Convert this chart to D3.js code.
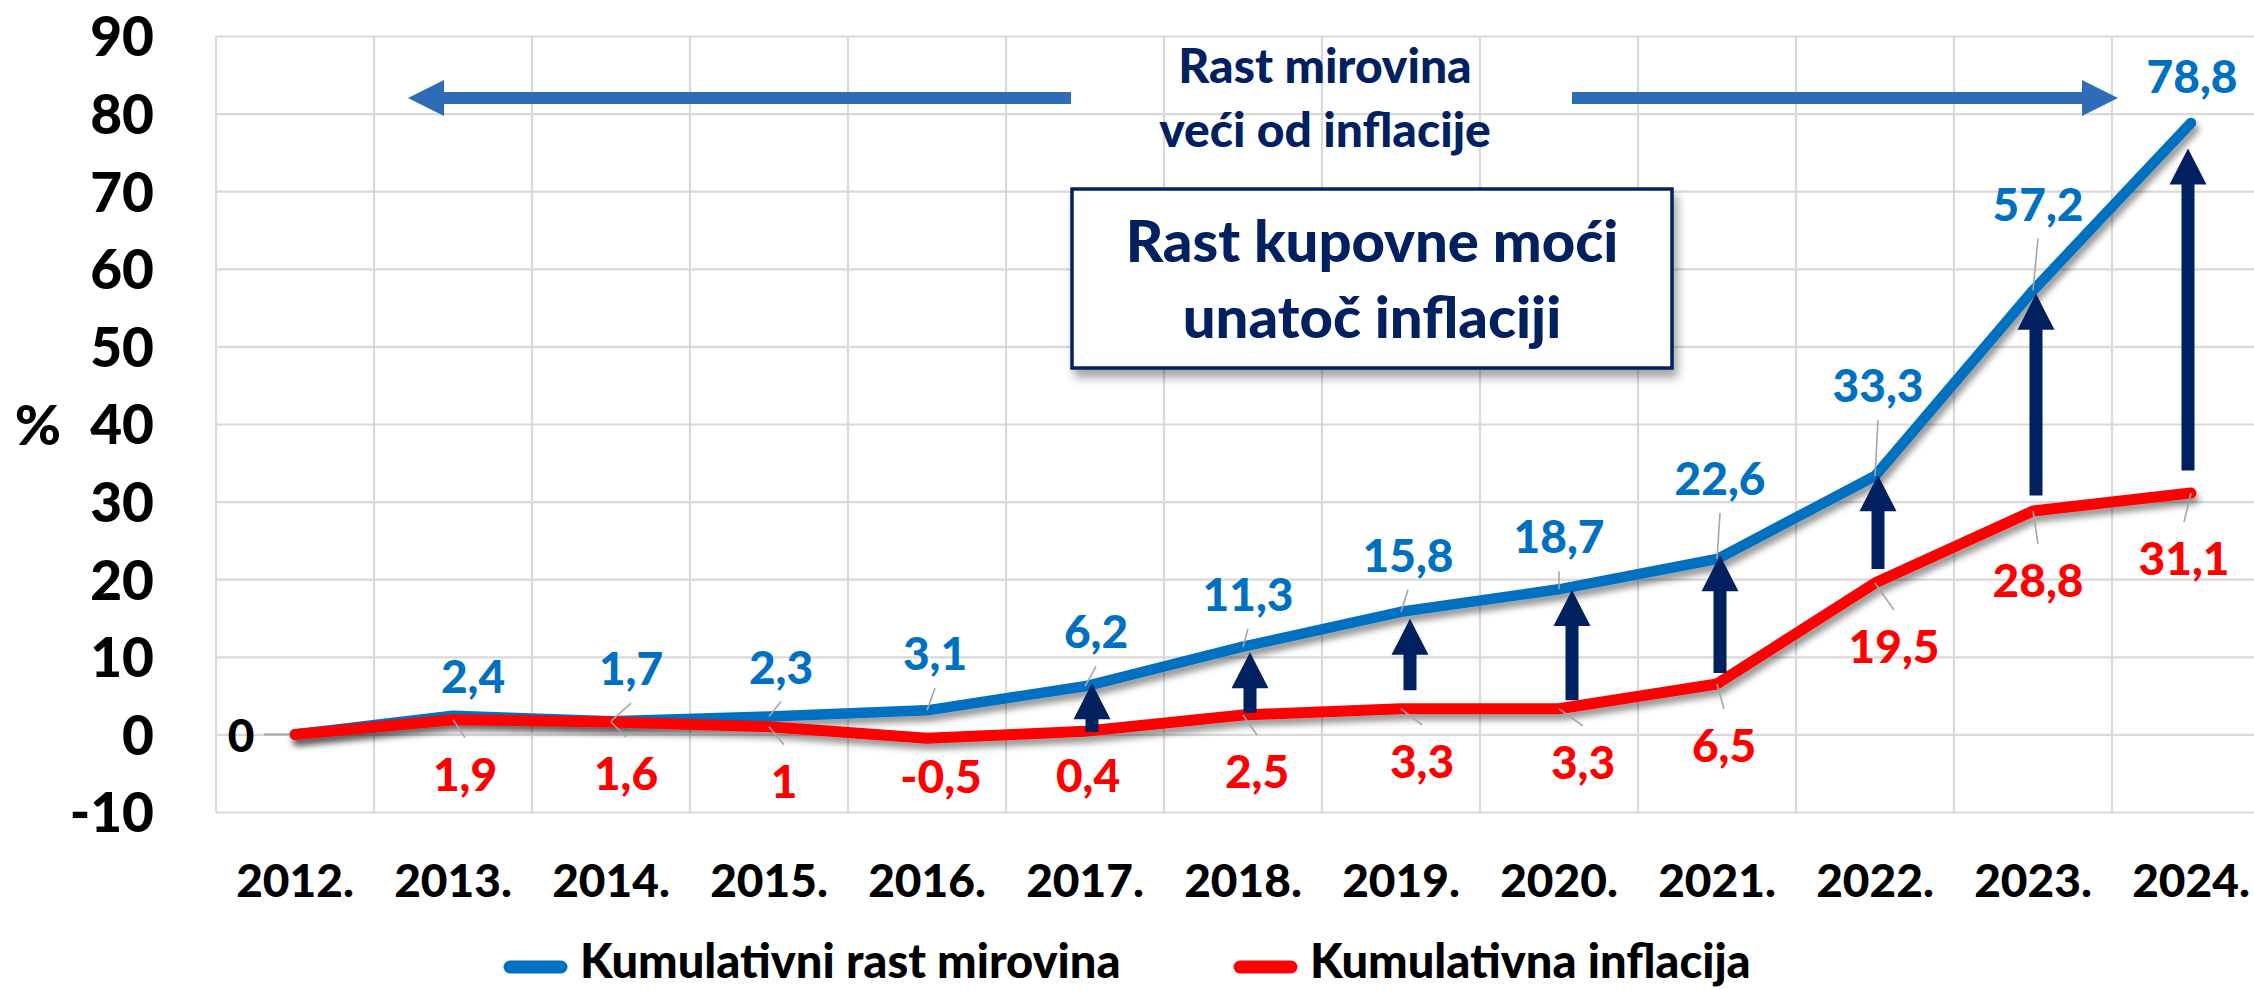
<!DOCTYPE html>
<html>
<head>
<meta charset="utf-8">
<script src="https://cdn.jsdelivr.net/npm/d3@7"></script>
<style>
  html, body { margin: 0; padding: 0; background: #ffffff; }
  svg { display: block; }
  text { font-family: Lato, "Open Sans", "DejaVu Sans", sans-serif; font-weight: 900; }
</style>
</head>
<body>
<svg id="chart" width="2254" height="990"></svg>
<script>
// ---------------- DATA ----------------
const years = ["2012.", "2013.", "2014.", "2015.", "2016.", "2017.", "2018.", "2019.", "2020.", "2021.", "2022.", "2023.", "2024."];
const pensionGrowth = [0, 2.4, 1.7, 2.3, 3.1, 6.2, 11.3, 15.8, 18.7, 22.6, 33.3, 57.2, 78.8];
const inflation = [0, 1.9, 1.6, 1, -0.5, 0.4, 2.5, 3.3, 3.3, 6.5, 19.5, 28.8, 31.1];
const yTicks = [-10, 0, 10, 20, 30, 40, 50, 60, 70, 80, 90];
const seriesNames = ["Kumulativni rast mirovina", "Kumulativna inflacija"];
// purchasing-power arrows (value range drawn between the two lines)
const gapYears = ["2017.", "2018.", "2019.", "2020.", "2021.", "2022.", "2023.", "2024."];
const gapFrom = [0.3, 2.8, 5.7, 4.4, 7.9, 21.3, 30.8, 34.0];
const gapTo = [6.6, 10.6, 14.9, 18.6, 23.1, 33.4, 56.8, 75.5];
const yAxisTitle = "%";
const noteTop = ["Rast mirovina", "veći od inflacije"];
const noteBox = ["Rast kupovne moći", "unatoč inflaciji"];

// ---------------- LAYOUT (label offsets in px relative to points) ----------------
const bluePos = [null, [20,-23,0],[20,-36,1],[12,-33,1],[8,-40,1],[11,-38,1],[5,-36,1],[7,-40,1],[0,-36,1],[3,-64,1],[3,-74,1],[5,-70,1],[1,-30,0]];
const redPos  = [[-54,18,2],[12,71,1],[15,68,1],[15,71,1],[14,55,0],[3,61,0],[14,73,1],[21,69,1],[24,70,1],[7,78,1],[19,80,1],[5,86,1],[-7,82,1]];
const gapDx = [7, 7, 9, 13, 3, 3, 3, -3];

const W = 2254, H = 990;
const plotLeft = 216, band = 158, plotTop = 36, plotBottom = 812;
const BLUE = "#0070C0", RED = "#FF0000", NAVY = "#002060", ARROW = "#2E6DB5", GRID = "#D9D9D9";

const svg = d3.select("#chart");
svg.append("rect").attr("width", W).attr("height", H).attr("fill", "#fff");

const defs = svg.append("defs");
const f1 = defs.append("filter").attr("id", "lineShadow").attr("filterUnits", "userSpaceOnUse")
  .attr("x", 0).attr("y", 0).attr("width", W).attr("height", H);
f1.append("feDropShadow").attr("dx", 3).attr("dy", 6).attr("stdDeviation", 3)
  .attr("flood-color", "#000").attr("flood-opacity", 0.4);
const f2 = defs.append("filter").attr("id", "boxShadow").attr("filterUnits", "userSpaceOnUse")
  .attr("x", 0).attr("y", 0).attr("width", W).attr("height", H);
f2.append("feDropShadow").attr("dx", 4).attr("dy", 8).attr("stdDeviation", 5)
  .attr("flood-color", "#000").attr("flood-opacity", 0.35);

const x = d3.scaleBand().domain(years).range([plotLeft, plotLeft + band * years.length]).padding(0);
const y = d3.scaleLinear().domain([-10, 90]).range([plotBottom, plotTop]);
const cx = d => x(d) + x.bandwidth() / 2;

// ---------------- GRID ----------------
const yAxis = d3.axisLeft(y).tickValues(yTicks).tickSize(-(x.range()[1] - plotLeft)).tickPadding(62).tickFormat(d => String(d));
const gy = svg.append("g").attr("transform", `translate(${plotLeft},0)`).call(yAxis);
gy.select(".domain").remove();
gy.selectAll(".tick line").attr("stroke", GRID).attr("stroke-width", 2.2);
gy.selectAll(".tick text").attr("fill", "#000").style("font-size", "55px").attr("dy", "0.36em");

const vLines = years.map(d => x(d)).concat([x.range()[1]]);
svg.append("g").selectAll("line").data(vLines).join("line")
  .attr("x1", d => d).attr("x2", d => d).attr("y1", y(90)).attr("y2", y(-10))
  .attr("stroke", GRID).attr("stroke-width", 2.2);

// y title
svg.append("text").attr("x", 38).attr("y", 445).attr("text-anchor", "middle")
  .style("font-size", "56px").attr("fill", "#000").text(yAxisTitle);

// x labels
svg.append("g").selectAll("text").data(years).join("text")
  .attr("x", d => cx(d)).attr("y", 897).attr("text-anchor", "middle")
  .style("font-size", "46px").attr("fill", "#000").text(d => d);

// ---------------- TOP NOTE + ARROWS ----------------
const arrowY = y(82);
function hArrow(tipX, tailX) {
  const dir = Math.sign(tipX - tailX);
  const headLen = 36, headHalf = 18, shaftHalf = 6;
  const baseX = tipX - dir * headLen;
  return `M${tailX},${arrowY - shaftHalf} L${baseX},${arrowY - shaftHalf} L${baseX},${arrowY - headHalf} L${tipX},${arrowY} L${baseX},${arrowY + headHalf} L${baseX},${arrowY + shaftHalf} L${tailX},${arrowY + shaftHalf} Z`;
}
svg.append("path").attr("d", hArrow(408, 1071)).attr("fill", ARROW);
svg.append("path").attr("d", hArrow(2118, 1572)).attr("fill", ARROW);
svg.append("g").selectAll("text").data(noteTop).join("text")
  .attr("x", 1325).attr("y", (d, i) => 83 + i * 64).attr("text-anchor", "middle")
  .style("font-size", "48px").attr("fill", NAVY).text(d => d);

// box
svg.append("rect").attr("x", 1072).attr("y", 189).attr("width", 600).attr("height", 179)
  .attr("fill", "#fff").attr("stroke", NAVY).attr("stroke-width", 3.5).attr("filter", "url(#boxShadow)");
svg.append("g").selectAll("text").data(noteBox).join("text")
  .attr("x", 1372).attr("y", (d, i) => 262 + i * 76).attr("text-anchor", "middle")
  .style("font-size", "58px").attr("fill", NAVY).text(d => d);

// ---------------- LINES ----------------
const line = d3.line().x((d, i) => cx(years[i])).y(d => y(d));
svg.append("path").datum(pensionGrowth).attr("d", line).attr("fill", "none")
  .attr("stroke", BLUE).attr("stroke-width", 10.5).attr("stroke-linejoin", "round").attr("stroke-linecap", "round")
  .attr("filter", "url(#lineShadow)");
svg.append("path").datum(inflation).attr("d", line).attr("fill", "none")
  .attr("stroke", RED).attr("stroke-width", 11).attr("stroke-linejoin", "round").attr("stroke-linecap", "round")
  .attr("filter", "url(#lineShadow)");

// ---------------- GAP ARROWS ----------------
function vArrow(xc, y0, y1) {
  const headLen = 36, headHalf = 18.5, shaftHalf = 6.5;
  const baseY = y1 + headLen;
  return `M${xc - shaftHalf},${y0} L${xc - shaftHalf},${baseY} L${xc - headHalf},${baseY} L${xc},${y1} L${xc + headHalf},${baseY} L${xc + shaftHalf},${baseY} L${xc + shaftHalf},${y0} Z`;
}
svg.append("g").selectAll("path").data(gapYears).join("path")
  .attr("d", (d, i) => vArrow(cx(d) + gapDx[i], y(gapFrom[i]), y(gapTo[i])))
  .attr("fill", NAVY);

// ---------------- DATA LABELS ----------------
const fmt = v => String(v).replace(".", ",");
const lg = svg.append("g");
pensionGrowth.forEach((v, i) => {
  const p = bluePos[i]; if (!p || !p[2]) return;
  const px = cx(years[i]), py = y(v);
  lg.append("line").attr("x1", px + p[0]).attr("y1", py + p[1] + 18).attr("x2", px).attr("y2", py)
    .attr("stroke", "#A6A6A6").attr("stroke-width", 1.6);
});
inflation.forEach((v, i) => {
  const p = redPos[i]; if (!p[2]) return;
  const px = cx(years[i]), py = y(v);
  if (p[2] === 2) {
    lg.append("line").attr("x1", px + p[0] + 23).attr("y1", py).attr("x2", px - 5).attr("y2", py)
      .attr("stroke", "#A6A6A6").attr("stroke-width", 2);
  } else {
    lg.append("line").attr("x1", px).attr("y1", py).attr("x2", px + p[0]).attr("y2", py + p[1] - 53)
      .attr("stroke", "#A6A6A6").attr("stroke-width", 1.6);
  }
});
svg.append("g").selectAll("text").data(pensionGrowth.map((v, i) => [v, i]).filter(d => bluePos[d[1]]))
  .join("text")
  .attr("x", d => cx(years[d[1]]) + bluePos[d[1]][0])
  .attr("y", d => y(d[0]) + bluePos[d[1]][1])
  .attr("text-anchor", "middle").style("font-size", "46px").attr("fill", BLUE)
  .text(d => fmt(d[0]));
svg.append("g").selectAll("text").data(inflation.map((v, i) => [v, i]))
  .join("text")
  .attr("x", d => cx(years[d[1]]) + redPos[d[1]][0])
  .attr("y", d => y(d[0]) + redPos[d[1]][1])
  .attr("text-anchor", "middle").style("font-size", "46px")
  .attr("fill", d => d[1] === 0 ? "#000" : RED)
  .text(d => fmt(d[0]));

// ---------------- LEGEND ----------------
const legend = [{ name: seriesNames[0], color: BLUE, x0: 504 }, { name: seriesNames[1], color: RED, x0: 1234 }];
const lgd = svg.append("g");
legend.forEach(l => {
  lgd.append("line").attr("x1", l.x0 + 6).attr("x2", l.x0 + 57).attr("y1", 967).attr("y2", 967)
    .attr("stroke", l.color).attr("stroke-width", 13).attr("stroke-linecap", "round");
  lgd.append("text").attr("x", l.x0 + 76).attr("y", 978).style("font-size", "47px").attr("fill", "#000").text(l.name);
});
</script>
</body>
</html>
